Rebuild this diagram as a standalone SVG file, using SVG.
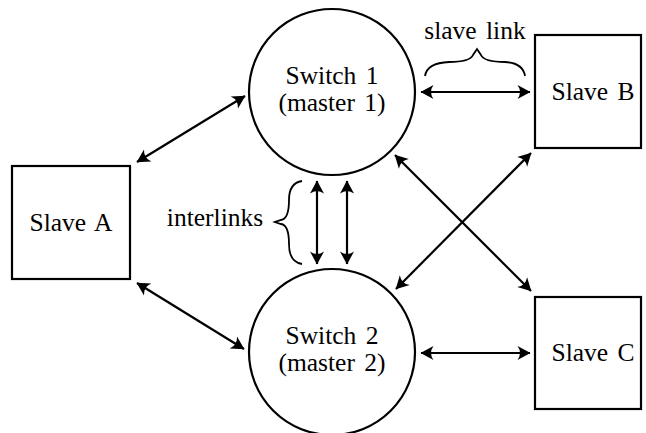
<svg xmlns="http://www.w3.org/2000/svg" width="646" height="433" viewBox="0 0 646 433">
<defs>
<marker id="ah" viewBox="-14 -8 15 16" refX="0" refY="0" markerWidth="15" markerHeight="16" markerUnits="userSpaceOnUse" orient="auto-start-reverse">
<path d="M0.5,0 L-12.5,-7 Q-7.5,0 -12.5,7 Z" fill="#000"/>
</marker>
<style>
.n{fill:#fff;stroke:#000;stroke-width:2.2}
.t{font-family:'Liberation Serif','Times New Roman',Times,serif;font-size:25.5px;fill:#000;text-anchor:middle;word-spacing:3px}
.c line{stroke:#000;stroke-width:2.2;marker-start:url(#ah);marker-end:url(#ah)}
.b{fill:none;stroke:#000;stroke-width:1.8}
</style>
</defs>
<rect width="646" height="433" fill="#fff"/>
<g id="switch1">
<circle class="n" cx="332" cy="92" r="83"/>
<text class="t" x="332" y="84">Switch 1</text>
<text class="t" x="332" y="111">(master 1)</text>
</g>
<g id="switch2">
<circle class="n" cx="332" cy="352" r="83"/>
<text class="t" x="332" y="344">Switch 2</text>
<text class="t" x="332" y="371">(master 2)</text>
</g>
<g id="slaveA">
<rect class="n" x="12" y="166" width="118" height="113"/>
<text class="t" x="71" y="231">Slave A</text>
</g>
<g id="slaveB">
<rect class="n" x="535" y="35" width="106" height="113"/>
<text class="t" x="593" y="100">Slave B</text>
</g>
<g id="slaveC">
<rect class="n" x="535" y="297" width="106" height="112"/>
<text class="t" x="593" y="361">Slave C</text>
</g>
<g id="connectors" class="c">
<line x1="137" y1="162" x2="245" y2="96"/>
<line x1="137" y1="283" x2="244" y2="349"/>
<line x1="421" y1="92" x2="530" y2="92"/>
<line x1="421" y1="353" x2="530" y2="353"/>
<line x1="395" y1="155" x2="531" y2="291"/>
<line x1="531" y1="153" x2="396" y2="289"/>
<line x1="317" y1="181" x2="317" y2="264"/>
<line x1="347" y1="181" x2="347" y2="264"/>
</g>
<g id="labels">
<text class="t" x="475" y="39">slave link</text>
<path class="b" d="M425,76 Q427,63 449,62 Q470,62 473,55 L477,49 L481,55 Q484,62 505,62 Q523,63 525,76"/>
<text class="t" x="215" y="226">interlinks</text>
<path class="b" d="M302,181 Q289,183 289,200 Q289,219 281,220 L275,222 L281,224 Q289,225 289,244 Q289,262 302,264"/>
</g>
</svg>
